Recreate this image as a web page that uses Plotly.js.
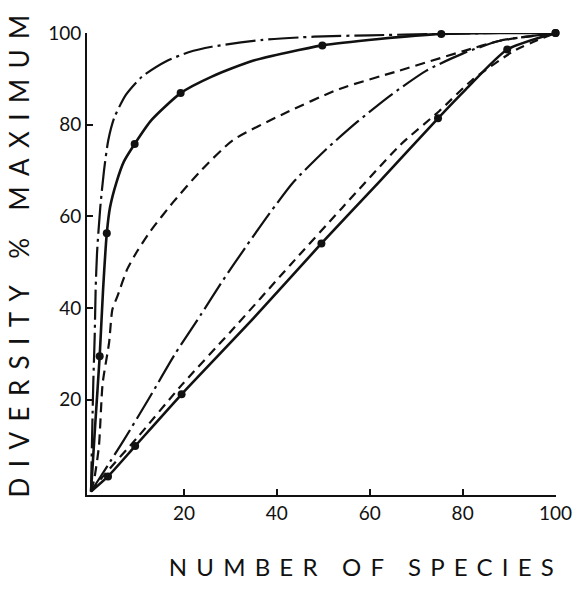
<!DOCTYPE html>
<html>
<head>
<meta charset="utf-8">
<script src="https://cdn.plot.ly/plotly-3.0.1.min.js"></script>
<style>
  html, body { margin: 0; padding: 0; background: #fff; }
  #chart { width: 576px; height: 589px; }
  g.annotation[data-index="0"] text { letter-spacing: 10.4px; }
  g.annotation[data-index="1"] text { letter-spacing: 9.2px; }
</style>
</head>
<body>
<div id="chart"></div>
<script>
// Top dash-dot curve
const xA = [0, 0.3, 0.5, 0.8, 1.0, 1.3, 2.0, 2.8, 3.7, 5.0, 7.5, 11, 16.3, 21, 26, 37, 48, 60, 75, 88, 100];
const yA = [0, 15, 24, 34, 44, 52, 62, 70, 76.5, 81.5, 86.5, 90.5, 93.9, 95.8, 97, 98.5, 99.2, 99.5, 99.8, 100, 100];
// Top solid curve
const xB = [0, 0.9, 1.87, 2.6, 3.4, 4.1, 5.5, 7.1, 9.4, 13, 19.3, 26, 35, 49.8, 62, 75.4, 88, 100];
const yB = [0, 14.5, 29.5, 44, 56.3, 62, 67.5, 72, 75.8, 81, 86.9, 90.5, 94, 97.3, 98.7, 99.8, 100, 100];
const xBm = [1.87, 3.4, 9.4, 19.3, 49.8, 75.4, 100];
const yBm = [29.5, 56.3, 75.8, 86.9, 97.3, 99.8, 100];
// Upper dashed curve
const xC = [0, 0.65, 1.7, 2.5, 3.9, 4.6, 5.7, 7.8, 10, 12.8, 17.6, 23.4, 30.5, 41.3, 53.5, 66.4, 80, 88, 100];
const yC = [0, 2.4, 9.8, 23.5, 32.5, 39.7, 42.6, 48.5, 52.5, 56.8, 63, 69.7, 76.6, 82.3, 87.8, 91.8, 96, 98.3, 100];
// Middle dash-dot curve
const xD = [0, 7.0, 12.6, 18.1, 23.6, 28.5, 33.5, 38.4, 43.5, 50.7, 57.3, 64.2, 72.2, 80, 88, 100];
const yD = [0, 11.1, 20.5, 30, 38.5, 46.2, 53.6, 60.6, 67.4, 74.7, 80.6, 86.2, 91.8, 95.5, 98.3, 100];
// Lower dashed curve
const xE = [0, 3, 10, 19.5, 30, 42.9, 54, 66.6, 75, 82, 91.4, 100];
const yE = [0, 3.8, 11.8, 23.2, 34.8, 49.4, 61.8, 75.6, 83, 89.7, 96.3, 100];
// Bottom solid curve
const xF = [0, 3.66, 9.5, 19.5, 35, 49.6, 62, 74.7, 80.6, 89.6, 100];
const yF = [0, 3.3, 9.9, 21.2, 37.8, 54.1, 67.5, 81.4, 87.6, 96.4, 100];
const xFm = [3.66, 9.5, 19.5, 49.6, 74.7, 89.6, 100];
const yFm = [3.3, 9.9, 21.2, 54.1, 81.4, 96.4, 100];

const tickVals = [20, 40, 60, 80, 100];
const tickText = ['20', '40', '60', '80', '100'];
const yTitle = 'DIVERSITY % MAXIMUM';
const xTitle = 'NUMBER OF SPECIES';

const ink = '#111';
function line(x, y, width, dash) {
  return {x: x, y: y, type: 'scatter', mode: 'lines', hoverinfo: 'skip',
    line: {color: ink, width: width, dash: dash, shape: 'spline', smoothing: 0.6}, showlegend: false};
}
function marks(x, y) {
  return {x: x, y: y, type: 'scatter', mode: 'markers', hoverinfo: 'skip', cliponaxis: false,
    marker: {color: ink, size: 8}, showlegend: false};
}

const data = [
  line(xA, yA, 2.2, '30px,5px,3px,5px'),
  line(xB, yB, 2.6, 'solid'),
  marks(xBm, yBm),
  line(xC, yC, 2.2, '10px,6px'),
  line(xD, yD, 2.2, '30px,5px,3px,5px'),
  line(xE, yE, 2.2, '9px,6px'),
  line(xF, yF, 2.6, 'solid'),
  marks(xFm, yFm)
];

const font = 'Lato, "DejaVu Sans", sans-serif';
const layout = {
  width: 576, height: 589,
  margin: {l: 87, r: 20, t: 33, b: 94},
  paper_bgcolor: '#fff', plot_bgcolor: '#fff',
  xaxis: {
    range: [-0.86, 100.1], showgrid: false, zeroline: false,
    showline: true, linecolor: ink, linewidth: 2,
    ticks: 'inside', ticklen: 6, tickwidth: 2, tickcolor: ink,
    tickvals: tickVals, ticktext: tickText,
    tickfont: {family: font, size: 19, color: ink}
  },
  yaxis: {
    range: [-0.76, 100], showgrid: false, zeroline: false,
    showline: true, linecolor: ink, linewidth: 2,
    ticks: 'inside', ticklen: 6, tickwidth: 2, tickcolor: ink,
    tickvals: tickVals, ticktext: tickText,
    tickfont: {family: font, size: 19, color: ink}
  },
  annotations: [
    {text: yTitle, xref: 'paper', yref: 'paper', x: -0.147, y: 0.527,
     xanchor: 'center', yanchor: 'middle', textangle: -90, showarrow: false,
     font: {family: font, size: 26, color: ink}},
    {text: xTitle, xref: 'paper', yref: 'paper', x: 0.595, y: -0.1537,
     xanchor: 'center', yanchor: 'middle', showarrow: false,
     font: {family: font, size: 24, color: ink}}
  ]
};

Plotly.newPlot('chart', data, layout, {staticPlot: true, displayModeBar: false});
</script>
</body>
</html>
